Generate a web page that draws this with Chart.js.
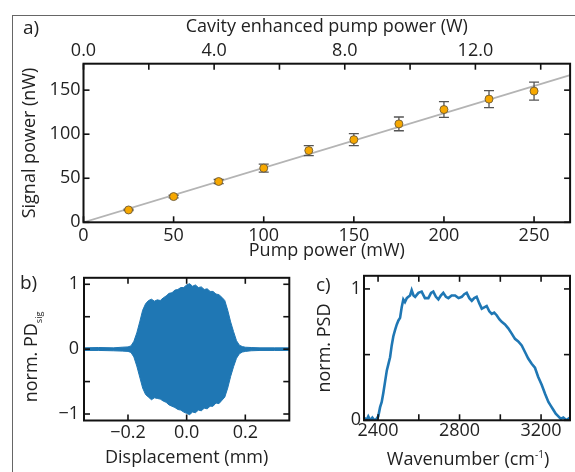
<!DOCTYPE html>
<html>
<head>
<meta charset="utf-8">
<script src="https://cdn.jsdelivr.net/npm/chart.js@4/dist/chart.umd.min.js"></script>
<style>
  body { margin: 0; background: #fff; width: 575px; height: 472px; overflow: hidden; position: relative; font-family: 'Open Sans', sans-serif; color: #222; }
  canvas { position: absolute; }
  .lbl { position: absolute; font-size: 19px; line-height: 1; white-space: nowrap; }
  .rot { transform: translate(-50%, -50%) rotate(-90deg); }
  #frame { position: absolute; left: 12px; top: 15px; width: 620px; height: 520px; border: 1px solid #666; }
</style>
</head>
<body>
<div id="frame"></div>
<canvas id="chartA" width="575" height="265" style="left:0;top:0"></canvas>
<canvas id="chartB" width="300" height="210" style="left:0;top:262px"></canvas>
<canvas id="chartC" width="275" height="210" style="left:300px;top:262px"></canvas>
<div class="lbl" style="left:23px;top:18px">a)</div>
<div class="lbl" style="left:20px;top:273px">b)</div>
<div class="lbl" style="left:316px;top:275px">c)</div>
<div class="lbl rot" style="left:32px;top:357px;font-size:18px">norm. PD<sub style="font-size:9px">sig</sub></div>
<div class="lbl" style="left:468px;top:458px;font-size:18px;transform:translate(-50%,-50%)">Wavenumber (cm<sup style="font-size:10px">-1</sup>)</div>

<script>
// panel a - signal vs pump power
var pumpPower   = [25, 50, 75, 100, 125, 150, 175, 200, 225, 250];
var signalPower = [14, 29.2, 46.3, 61.5, 81.4, 93.8, 111.7, 128, 139.8, 148.9];
var signalErr   = [0.8, 1.5, 2.3, 4.5, 5.7, 6.8, 7.8, 8.9, 9.7, 10.3];
var fitPump   = [0, 270];
var fitSignal = [0, 167];
var aBottomTicks = [0, 50, 100, 150, 200, 250];
var aTopTicks    = [0, 2, 4, 6, 8, 10, 12, 14];
var aLeftTicks   = [0, 50, 100, 150];

// panel b - interferogram envelope
var dispX = [-0.35, -0.30, -0.25, -0.22, -0.20, -0.19, -0.18, -0.17, -0.16, -0.15, -0.14, -0.13, -0.12, -0.11, -0.10,
  -0.09, -0.08, -0.07, -0.06, -0.05, -0.04, -0.03, -0.02, -0.01, 0.00, 0.01, 0.02, 0.03, 0.04, 0.05, 0.06, 0.07,
  0.08, 0.09, 0.10, 0.11, 0.12, 0.13, 0.14, 0.15, 0.16, 0.17, 0.18, 0.19, 0.20, 0.22, 0.25, 0.30, 0.35];
var envUpper = [0.02, 0.025, 0.02, 0.03, 0.035, 0.05, 0.12, 0.25, 0.42, 0.60, 0.70, 0.75, 0.77, 0.74, 0.76,
  0.75, 0.79, 0.82, 0.86, 0.87, 0.91, 0.92, 0.95, 0.95, 0.99, 1.01, 0.97, 0.99, 0.95, 0.96, 0.92, 0.93,
  0.89, 0.89, 0.85, 0.84, 0.80, 0.75, 0.60, 0.42, 0.27, 0.13, 0.06, 0.04, 0.03, 0.025, 0.02, 0.02, 0.02];
var envLower = [-0.02, -0.02, -0.025, -0.03, -0.035, -0.05, -0.12, -0.26, -0.43, -0.60, -0.70, -0.74, -0.78, -0.75, -0.76,
  -0.77, -0.80, -0.82, -0.86, -0.88, -0.90, -0.93, -0.94, -0.97, -0.99, -1.01, -0.97, -0.98, -0.94, -0.95, -0.91, -0.92,
  -0.88, -0.88, -0.83, -0.84, -0.79, -0.74, -0.60, -0.42, -0.27, -0.14, -0.07, -0.045, -0.035, -0.025, -0.02, -0.02, -0.02];
var bXTicks = [-0.2, 0, 0.2];
var bYTicks = [-1, -0.5, 0, 0.5, 1];

// panel c - spectrum
var waveNum = [2333, 2343, 2352, 2362, 2372, 2382, 2392, 2401, 2410, 2418, 2426, 2435, 2443, 2451, 2459, 2467, 2475,
  2484, 2492, 2500, 2508, 2516, 2524, 2532, 2541, 2549, 2557, 2565, 2574, 2582, 2598, 2614, 2630, 2647, 2660, 2671,
  2684, 2696, 2708, 2720, 2733, 2745, 2761, 2778, 2795, 2811, 2823, 2835, 2848, 2860, 2872, 2884, 2897, 2909, 2921,
  2933, 2946, 2958, 2970, 2982, 2995, 3007, 3023, 3039, 3056, 3072, 3088, 3105, 3121, 3137, 3154, 3170, 3186, 3203,
  3220, 3236, 3248, 3260, 3272, 3285, 3297, 3309, 3325, 3340];
var psd = [0.02, 0.0, 0.03, 0.0, 0.02, 0.0, 0.01, 0.03, 0.10, 0.14, 0.21, 0.30, 0.38, 0.43, 0.48, 0.57, 0.64,
  0.69, 0.73, 0.76, 0.78, 0.86, 0.92, 0.90, 0.93, 0.94, 0.95, 0.99, 0.95, 0.94, 0.97, 0.98, 0.93, 0.93, 0.97, 0.98,
  0.94, 0.92, 0.95, 0.97, 0.94, 0.93, 0.95, 0.95, 0.93, 0.94, 0.96, 0.97, 0.93, 0.91, 0.93, 0.94, 0.89, 0.85, 0.86,
  0.87, 0.83, 0.81, 0.82, 0.80, 0.77, 0.75, 0.73, 0.70, 0.66, 0.62, 0.60, 0.57, 0.52, 0.47, 0.43, 0.40, 0.33, 0.27,
  0.20, 0.14, 0.11, 0.08, 0.05, 0.03, 0.01, 0.02, 0.0, 0.02];
var cXTicks = [2400, 2600, 2800, 3000, 3200];
var cYTicks = [0, 0.5, 1];

var FONT = "'Open Sans', sans-serif";
var INK = '#222';
var BLUE = '#1f77b4';

function xy(xs, ys) {
  return xs.map(function (x, i) { return { x: x, y: ys[i] }; });
}

// fixes scale box sizes so the plot areas land where they should
function boxSize(size) {
  return function (scale) {
    if (scale.isHorizontal()) scale.height = size;
    else scale.width = size;
  };
}
function useTicks(list) {
  return function (scale) {
    scale.ticks = list.map(function (v) { return { value: v }; });
  };
}

// inward ticks on every side + black frame
var frameTicks = {
  id: 'frameTicks',
  afterDraw: function (chart) {
    var ctx = chart.ctx, a = chart.chartArea, len = 6;
    ctx.save();
    ctx.strokeStyle = '#111';
    ctx.lineWidth = 1.6;
    Object.keys(chart.scales).forEach(function (id) {
      var s = chart.scales[id];
      s.ticks.forEach(function (t) {
        var p = s.getPixelForValue(t.value);
        ctx.beginPath();
        if (s.position === 'left') { ctx.moveTo(a.left, p); ctx.lineTo(a.left + len, p); }
        else if (s.position === 'right') { ctx.moveTo(a.right, p); ctx.lineTo(a.right - len, p); }
        else if (s.position === 'top') { ctx.moveTo(p, a.top); ctx.lineTo(p, a.top + len); }
        else { ctx.moveTo(p, a.bottom); ctx.lineTo(p, a.bottom - len); }
        ctx.stroke();
      });
    });
    ctx.lineWidth = 2;
    ctx.strokeRect(a.left, a.top, a.right - a.left, a.bottom - a.top);
    ctx.restore();
  }
};

// error bars for the scatter set in panel a
var errorBars = {
  id: 'errorBars',
  beforeDatasetDraw: function (chart, args) {
    if (args.meta.type !== 'scatter') return;
    var ctx = chart.ctx, xs = chart.scales.x, ys = chart.scales.y;
    ctx.save();
    ctx.strokeStyle = '#555';
    ctx.lineWidth = 1.3;
    pumpPower.forEach(function (p, i) {
      var px = xs.getPixelForValue(p);
      var hi = ys.getPixelForValue(signalPower[i] + signalErr[i]);
      var lo = ys.getPixelForValue(signalPower[i] - signalErr[i]);
      ctx.beginPath();
      ctx.moveTo(px, hi); ctx.lineTo(px, lo);
      ctx.moveTo(px - 5, hi); ctx.lineTo(px + 5, hi);
      ctx.moveTo(px - 5, lo); ctx.lineTo(px + 5, lo);
      ctx.stroke();
    });
    ctx.restore();
  }
};

Chart.defaults.font.family = FONT;
Chart.defaults.font.size = 18;
Chart.defaults.color = INK;

function axis(opts) {
  var base = {
    type: 'linear',
    grid: { display: false, drawTicks: false },
    border: { display: false },
    ticks: { autoSkip: false, maxRotation: 0, color: INK, padding: 4 },
    title: { display: false }
  };
  return Object.assign(base, opts);
}

var common = {
  responsive: false,
  animation: false,
  layout: { padding: 0 },
  plugins: { legend: { display: false }, tooltip: { enabled: false } }
};

// ---- panel a ----
new Chart(document.getElementById('chartA'), {
  type: 'scatter',
  data: {
    datasets: [{
      type: 'scatter',
      data: xy(pumpPower, signalPower),
      pointRadius: 4,
      pointBackgroundColor: '#f7a800',
      pointBorderColor: '#6b5a3a',
      pointBorderWidth: 0.9,
      order: 1
    }, {
      type: 'line',
      data: xy(fitPump, fitSignal),
      borderColor: '#b4b4b4',
      borderWidth: 1.8,
      pointRadius: 0,
      order: 2
    }]
  },
  options: Object.assign({}, common, {
    scales: {
      x: axis({
        position: 'bottom', min: 0, max: 270,
        afterFit: boxSize(42.7), afterBuildTicks: useTicks(aBottomTicks),
        ticks: { autoSkip: false, maxRotation: 0, color: INK, padding: 3 },
        title: { display: true, text: 'Pump power (mW)', color: INK, padding: { bottom: 3, top: 0 } }
      }),
      xTop: axis({
        position: 'top', min: 0, max: 14.9,
        afterFit: boxSize(63.7), afterBuildTicks: useTicks(aTopTicks),
        ticks: { autoSkip: false, maxRotation: 0, color: INK, padding: 2,
          callback: function (v) { return v % 4 === 0 ? v.toFixed(1) : ''; } },
        title: { display: true, text: 'Cavity enhanced pump power (W)', color: INK, padding: { top: 16 } }
      }),
      y: axis({
        position: 'left', min: 0, max: 180,
        afterFit: boxSize(83.5), afterBuildTicks: useTicks(aLeftTicks),
        ticks: { autoSkip: false, color: INK, padding: 3 },
        title: { display: true, text: 'Signal power (nW)', color: INK, padding: { top: 19 } }
      }),
      yR: axis({
        position: 'right', min: 0, max: 180,
        afterFit: boxSize(4.3), afterBuildTicks: useTicks(aLeftTicks),
        ticks: { display: false }
      })
    }
  }),
  plugins: [errorBars, frameTicks]
});

// ---- panel b ----
new Chart(document.getElementById('chartB'), {
  type: 'line',
  data: {
    datasets: [{
      data: xy(dispX, envUpper),
      borderColor: BLUE, backgroundColor: BLUE, borderWidth: 1,
      pointRadius: 0, fill: '+1'
    }, {
      data: xy(dispX, envLower),
      borderColor: BLUE, borderWidth: 1, pointRadius: 0, fill: false
    }]
  },
  options: Object.assign({}, common, {
    scales: {
      x: axis({
        position: 'bottom', min: -0.35, max: 0.35,
        afterFit: boxSize(51.5), afterBuildTicks: useTicks(bXTicks),
        ticks: { autoSkip: false, maxRotation: 0, color: INK, padding: 2,
          callback: function (v) { return (v < 0 ? '\u2212' : '') + Math.abs(v).toFixed(1); } },
        title: { display: true, text: 'Displacement (mm)', color: INK, padding: { bottom: 3 } }
      }),
      xTop: axis({
        position: 'top', min: -0.35, max: 0.35,
        afterFit: boxSize(13.5), afterBuildTicks: useTicks(bXTicks),
        ticks: { display: false }
      }),
      y: axis({
        position: 'left', min: -1.1, max: 1.1,
        afterFit: boxSize(84), afterBuildTicks: useTicks(bYTicks),
        ticks: { autoSkip: false, color: INK, padding: 5,
          callback: function (v) { return v % 1 === 0 ? (v < 0 ? '\u2212' : '') + Math.abs(v) : ''; } }
      }),
      yR: axis({
        position: 'right', min: -1.1, max: 1.1,
        afterFit: boxSize(10.7), afterBuildTicks: useTicks(bYTicks),
        ticks: { display: false }
      })
    }
  }),
  plugins: [frameTicks]
});

// ---- panel c ----
new Chart(document.getElementById('chartC'), {
  type: 'line',
  data: {
    datasets: [{
      data: xy(waveNum, psd),
      borderColor: BLUE, borderWidth: 2.6, pointRadius: 0, fill: false
    }]
  },
  options: Object.assign({}, common, {
    scales: {
      x: axis({
        position: 'bottom', min: 2331, max: 3342,
        afterFit: boxSize(51.7), afterBuildTicks: useTicks(cXTicks),
        ticks: { autoSkip: false, maxRotation: 0, color: INK, padding: 0,
          callback: function (v) { return v % 400 === 0 ? String(v) : ''; } }
      }),
      xTop: axis({
        position: 'top', min: 2331, max: 3342,
        afterFit: boxSize(13.3), afterBuildTicks: useTicks(cXTicks),
        ticks: { display: false }
      }),
      y: axis({
        position: 'left', min: 0, max: 1.1,
        afterFit: boxSize(64), afterBuildTicks: useTicks(cYTicks),
        ticks: { autoSkip: false, color: INK, padding: 3,
          callback: function (v) { return v % 1 === 0 ? String(v) : ''; } },
        title: { display: true, text: 'norm. PSD', color: INK, padding: { top: 14 } }
      }),
      yR: axis({
        position: 'right', min: 0, max: 1.1,
        afterFit: boxSize(5), afterBuildTicks: useTicks(cYTicks),
        ticks: { display: false }
      })
    }
  }),
  plugins: [frameTicks]
});
</script>
</body>
</html>
